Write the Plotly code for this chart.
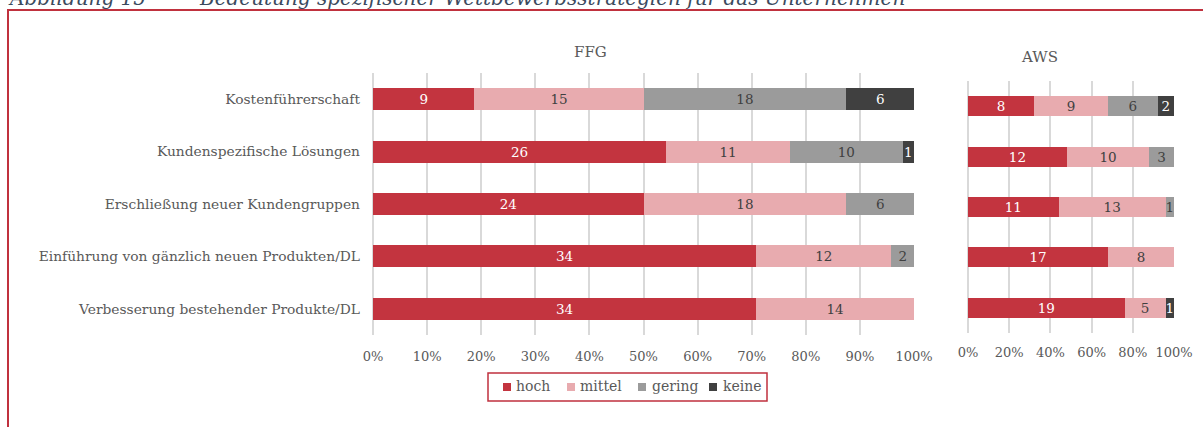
import plotly.graph_objects as go

categories = ["Kostenführerschaft", "Kundenspezifische Lösungen", "Erschließung neuer Kundengruppen",
              "Einführung von gänzlich neuen Produkten/DL", "Verbesserung bestehender Produkte/DL"]
series_names = ["hoch", "mittel", "gering", "keine"]
colors = ["#C3343F", "#E8ABAF", "#9B9B9B", "#404040"]
label_colors = ["#FFFFFF", "#404040", "#404040", "#FFFFFF"]

ffg_hoch = [9, 26, 24, 34, 34]
ffg_mittel = [15, 11, 18, 12, 14]
ffg_gering = [18, 10, 6, 2, 0]
ffg_keine = [6, 1, 0, 0, 0]

aws_hoch = [8, 12, 11, 17, 19]
aws_mittel = [9, 10, 13, 8, 5]
aws_gering = [6, 3, 1, 0, 0]
aws_keine = [2, 0, 0, 0, 1]

ffg_ticks = [0, 10, 20, 30, 40, 50, 60, 70, 80, 90, 100]
aws_ticks = [0, 20, 40, 60, 80, 100]

FONT = "DejaVu Serif"
W, H = 1203, 427
RED = "#C0313E"
GRAY_TXT = "#595959"


def px(x):
    return x / W


def py(y):
    return (H - y) / H


fig = go.Figure()

ffg = [ffg_hoch, ffg_mittel, ffg_gering, ffg_keine]
aws = [aws_hoch, aws_mittel, aws_gering, aws_keine]

for data, xa, ya, bw in [(ffg, "x", "y", 0.42), (aws, "x2", "y2", 0.40)]:
    for i, name in enumerate(series_names):
        fig.add_trace(go.Bar(
            y=categories, x=data[i], name=name, orientation="h",
            marker=dict(color=colors[i], line=dict(width=0)),
            text=[str(v) if v else "" for v in data[i]],
            textposition="inside", insidetextanchor="middle", textangle=0,
            textfont=dict(color=label_colors[i], size=13.5, family=FONT),
            xaxis=xa, yaxis=ya, showlegend=False, width=bw, hoverinfo="skip"))

grid = "#D9D9D9"
tickfont = dict(family=FONT, size=13, color=GRAY_TXT)

fig.update_layout(
    width=W, height=H, autosize=False,
    margin=dict(l=0, r=0, t=0, b=0, autoexpand=False),
    paper_bgcolor="white", plot_bgcolor="white",
    barmode="stack", barnorm="percent",
    uniformtext=dict(minsize=12, mode="show"),
    font=dict(family=FONT, color=GRAY_TXT),
    showlegend=False,
    xaxis=dict(domain=[px(373), px(914)], range=[0, 100], tickvals=ffg_ticks,
               ticktext=[f"{t}%" for t in ffg_ticks], showgrid=True, gridcolor=grid,
               gridwidth=1.5, zeroline=True, zerolinecolor=grid, zerolinewidth=1.5,
               showline=False, tickfont=tickfont, ticklabelstandoff=12, anchor="y",
               automargin=False),
    yaxis=dict(domain=[py(335), py(73)], categoryorder="array", categoryarray=categories,
               autorange="reversed", showgrid=False, zeroline=False, showline=False,
               tickfont=dict(family=FONT, size=13.8, color=GRAY_TXT), ticklabelstandoff=12,
               anchor="x", automargin=False),
    xaxis2=dict(domain=[px(968), px(1174)], range=[0, 100], tickvals=aws_ticks,
                ticktext=[f"{t}%" for t in aws_ticks], showgrid=True, gridcolor=grid,
                gridwidth=1.5, zeroline=True, zerolinecolor=grid, zerolinewidth=1.5,
                showline=False, tickfont=tickfont, ticklabelstandoff=10, anchor="y2",
                automargin=False),
    yaxis2=dict(domain=[py(333), py(81)], categoryorder="array", categoryarray=categories,
                autorange="reversed", showgrid=False, zeroline=False, showline=False,
                showticklabels=False, anchor="x2", automargin=False),
)

# outer red frame
fig.add_shape(type="rect", xref="paper", yref="paper",
              x0=px(8), x1=px(1215), y0=py(440), y1=py(10),
              line=dict(color=RED, width=2), fillcolor="rgba(0,0,0,0)", layer="above")

# subplot titles
fig.add_annotation(text="FFG", xref="paper", yref="paper", x=px(590), y=py(52),
                   xanchor="center", yanchor="middle", showarrow=False,
                   font=dict(family=FONT, size=15, color=GRAY_TXT))
fig.add_annotation(text="AWS", xref="paper", yref="paper", x=px(1039), y=py(57),
                   xanchor="center", yanchor="middle", showarrow=False,
                   font=dict(family=FONT, size=15, color=GRAY_TXT))

# figure caption (cut at top edge, as in the reference)
fig.add_annotation(text="<i>Abbildung 15</i>", xref="paper", yref="paper", x=px(6), y=py(-2),
                   xanchor="left", yanchor="middle", showarrow=False,
                   font=dict(family=FONT, size=20, color="#3B4A5E"))
fig.add_annotation(text="<i>Bedeutung spezifischer Wettbewerbsstrategien für das Unternehmen</i>",
                   xref="paper", yref="paper", x=px(197), y=py(-2),
                   xanchor="left", yanchor="middle", showarrow=False,
                   font=dict(family=FONT, size=20, color="#3B4A5E"))

# legend (custom, boxed)
fig.add_shape(type="rect", xref="paper", yref="paper",
              x0=px(488), x1=px(767), y0=py(401), y1=py(373),
              line=dict(color=RED, width=1.5), fillcolor="white", layer="above")
legend_marker_x = [503, 567, 638, 709]
legend_text_x = [514, 578, 650, 721]
for i, name in enumerate(series_names):
    fig.add_shape(type="rect", xref="paper", yref="paper",
                  x0=px(legend_marker_x[i]), x1=px(legend_marker_x[i] + 8),
                  y0=py(391), y1=py(383), line=dict(width=0), fillcolor=colors[i], layer="above")
    fig.add_annotation(text=name, xref="paper", yref="paper", x=px(legend_text_x[i]), y=py(386),
                       xanchor="left", yanchor="middle", showarrow=False,
                       font=dict(family=FONT, size=14, color=GRAY_TXT))

fig.write_html("out.html", config={"responsive": False, "displayModeBar": False},
               post_script="document.body.style.margin='0';document.documentElement.style.overflow='hidden';")
